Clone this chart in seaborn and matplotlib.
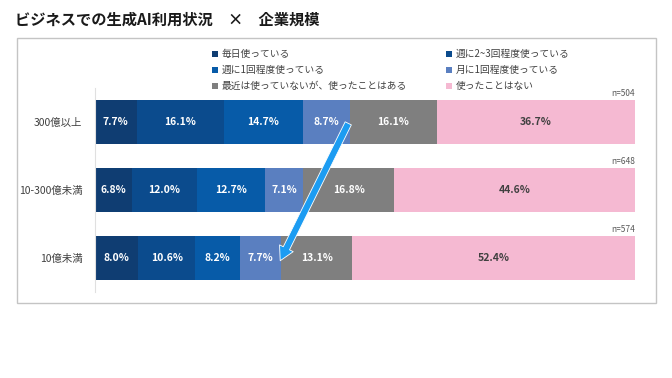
import matplotlib
matplotlib.use("Agg")
import matplotlib.pyplot as plt
from matplotlib.lines import Line2D
from matplotlib.patches import Rectangle
import seaborn as sns
import pandas as pd
import numpy as np

sns.set_theme(style="white")
plt.rcParams['font.family'] = ['Noto Sans CJK JP', 'DejaVu Sans']

# ---- data ----
categories = ["300億以上", "10-300億未満", "10億未満"]
series_names = ["毎日使っている", "週に2~3回程度使っている", "週に1回程度使っている",
                "月に1回程度使っている", "最近は使っていないが、使ったことはある", "使ったことはない"]
daily = [7.7, 6.8, 8.0]
weekly_2_3 = [16.1, 12.0, 10.6]
weekly_1 = [14.7, 12.7, 8.2]
monthly_1 = [8.7, 7.1, 7.7]
used_before = [16.1, 16.8, 13.1]
never = [36.7, 44.6, 52.4]
sample_n = [504, 648, 574]
title = "ビジネスでの生成AI利用状況　×　企業規模"

colors = ["#0f3d72", "#0b4b8d", "#075ba8", "#5a7fc0", "#7f7f7f", "#f5b9d2"]
label_colors = ["white", "white", "white", "white", "white", "#404040"]

series = [daily, weekly_2_3, weekly_1, monthly_1, used_before, never]
vals = np.array(series)            # shape (6, 3)
cum = np.cumsum(vals, axis=0)

fig = plt.figure(figsize=(6.72, 3.78), dpi=100)
# frame box
fig.patches.append(Rectangle((17/672, 1-303/378), 639/672, 265/378, transform=fig.transFigure,
                             fill=False, edgecolor="#c4c4c4", linewidth=1.0, zorder=0))

ax = fig.add_axes([95/672, 1-292/378, 540/672, 204/378])

for k in range(len(series) - 1, -1, -1):
    df = pd.DataFrame({"cat": categories, "val": cum[k]})
    sns.barplot(data=df, x="val", y="cat", orient="h", color=colors[k], width=0.66,
                saturation=1, ax=ax, linewidth=0, order=categories)

for k in range(len(series)):
    for i in range(len(categories)):
        center = cum[k][i] - vals[k][i] / 2
        ax.text(center, i, f"{vals[k][i]:.1f}%", ha="center", va="center",
                color=label_colors[k], fontsize=7.5, fontweight="bold")

for i, n in enumerate(sample_n):
    ax.text(100, i - 0.35, f"n={n}", ha="right", va="bottom", fontsize=6, color="#595959")

ax.set_xlim(0, 100)
ax.set_ylim(2.5, -0.5)
ax.set_xlabel("")
ax.set_ylabel("")
ax.set_xticks([])
ax.tick_params(axis="y", length=0, pad=9, labelsize=7.5, labelcolor="#404040")
for s in ["top", "right", "bottom"]:
    ax.spines[s].set_visible(False)
ax.spines["left"].set_color("#e0e0e0")
ax.spines["left"].set_linewidth(0.8)
ax.patch.set_alpha(0)

# arrow
ax.annotate("", xy=(34.3, 2.04), xytext=(46.9, 0.02),
            arrowprops=dict(arrowstyle="simple,head_length=1.0,head_width=1.1,tail_width=0.5",
                            fc="#1c9cf2", ec="white", lw=0.6, mutation_scale=10,
                            shrinkA=0, shrinkB=0))

# legend
handles = [Line2D([], [], marker="s", linestyle="none", markersize=5,
                  markerfacecolor=c, markeredgewidth=0) for c in colors]
order = [0, 2, 4, 1, 3, 5]
fig.legend([handles[o] for o in order], [series_names[o] for o in order], ncol=2,
           loc="upper left", bbox_to_anchor=(212/672, 1-49/378), frameon=False,
           fontsize=7, labelcolor="#404040", handlelength=0.6, handletextpad=0.4,
           columnspacing=4.0, labelspacing=0.62, borderpad=0, borderaxespad=0)

fig.text(15/672, 1-20/378, title, ha="left", va="center", fontsize=11,
         fontweight="bold", color="#1a1a1a")

fig.savefig("out.png", dpi=100)
